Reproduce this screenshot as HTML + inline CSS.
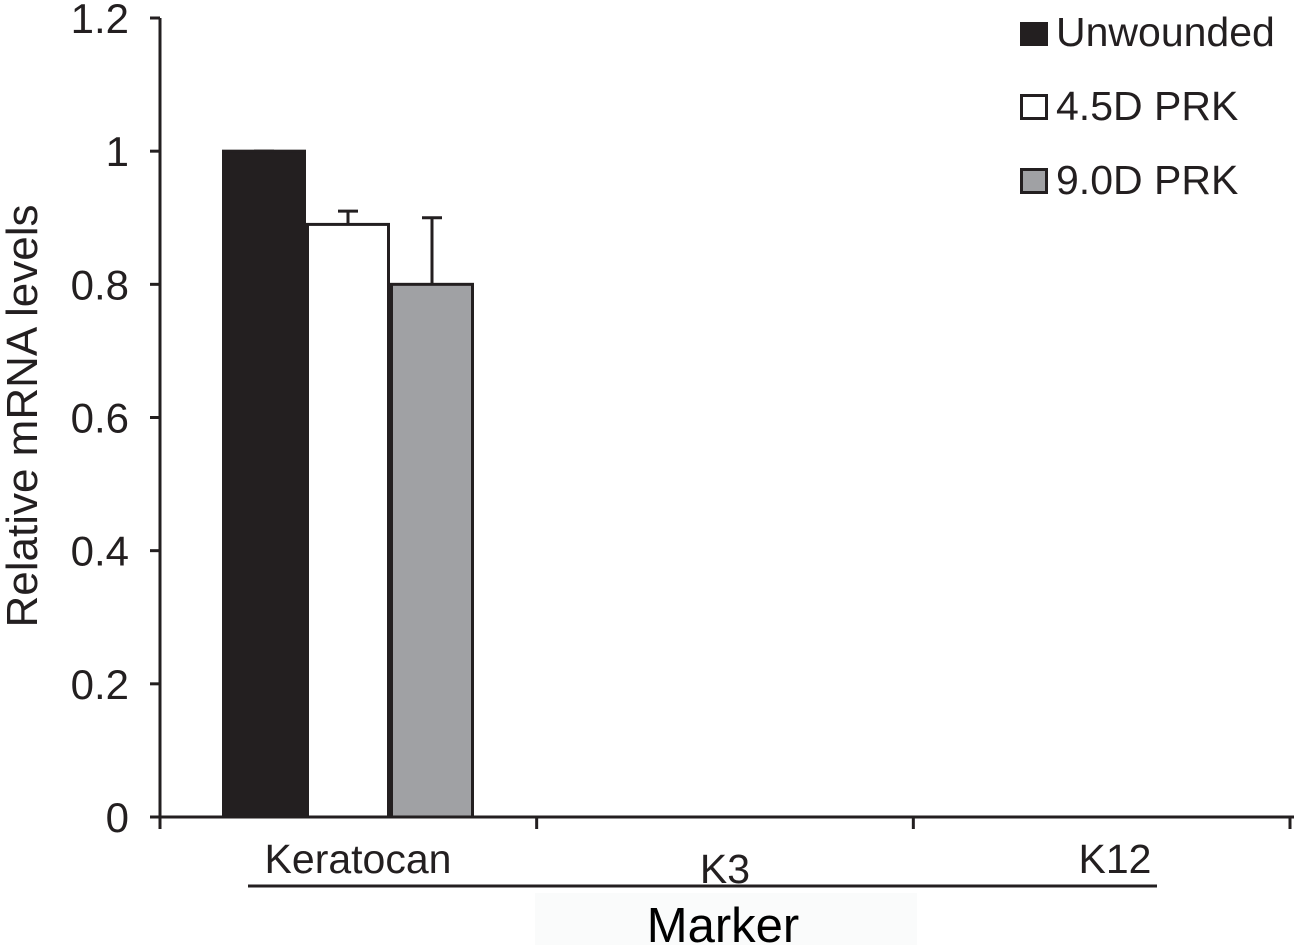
<!DOCTYPE html>
<html><head><meta charset="utf-8"><style>
html,body{margin:0;padding:0;background:#fff;}
svg{display:block;font-family:"Liberation Sans",Arial,sans-serif;}
</style></head><body>
<svg id="chart" width="1294" height="945" viewBox="0 0 1294 945">
<rect x="535" y="893" width="382" height="52" fill="#fafbfb"/>
<g id="yaxis"></g>
<g id="bars"></g>
<g id="xaxis"></g>
<text x="37" y="416" font-size="44" fill="#231f20" text-anchor="middle" transform="rotate(-90 37 416)">Relative mRNA levels</text>
<line x1="248" y1="886" x2="1157" y2="886" stroke="#231f20" stroke-width="3"/>
<text x="723" y="942" font-size="49" fill="#000" text-anchor="middle">Marker</text>
<g>
<g><rect x="1020" y="22" width="28" height="24" fill="#231f20"/><text x="1056" y="46" font-size="41" fill="#231f20">Unwounded</text></g>
<g><rect x="1021.5" y="95.5" width="25" height="23" fill="#fff" stroke="#231f20" stroke-width="3"/><text x="1056" y="120" font-size="41" fill="#231f20">4.5D PRK</text></g>
<g><rect x="1021.5" y="169.5" width="25" height="23" fill="#a0a1a4" stroke="#231f20" stroke-width="3"/><text x="1056" y="194" font-size="41" fill="#231f20">9.0D PRK</text></g>
</g>
</svg>
<script>
const categories = ["Keratocan", "K3", "K12"];
const seriesNames = ["Unwounded", "4.5D PRK", "9.0D PRK"];
const unwounded = [1.0, 0, 0];
const prk45 = [0.89, 0, 0];
const prk90 = [0.80, 0, 0];
const err45 = [0.02, 0, 0];
const err90 = [0.10, 0, 0];
const errUnw = [0.0, 0, 0];
const yTicks = [0, 0.2, 0.4, 0.6, 0.8, 1, 1.2];
const yTickLabels = ["0", "0.2", "0.4", "0.6", "0.8", "1", "1.2"];

const NS = "http://www.w3.org/2000/svg";
const x0 = 160, x1 = 1290, yBase = 817, yTop = 18, yMax = 1.2;
const catW = (x1 - x0) / categories.length;
function y(v){ return yBase - v / yMax * (yBase - yTop); }
function catX(i){ return x0 + i * catW; }
function mk(tag, attrs, parent){ const e = document.createElementNS(NS, tag); for (const k in attrs) e.setAttribute(k, attrs[k]); parent.appendChild(e); return e; }

const yax = document.getElementById('yaxis');
let l = mk('line', {x1: x0, y1: yTop, x2: x0, y2: yBase + 1, stroke: '#231f20', 'stroke-width': 3}, yax);


yTicks.forEach((t, i) => {
  const tk = mk('line', {x1: x0 - 10, y1: y(t), x2: x0, y2: y(t), stroke: '#231f20', 'stroke-width': 3}, yax);
  
  
  const tx = mk('text', {x: 129, y: y(t) + 15, 'font-size': 42, fill: '#231f20', 'text-anchor': 'end'}, yax);
  tx.textContent = yTickLabels[i];
  
  
});

const xax = document.getElementById('xaxis');
l = mk('line', {x1: x0, y1: yBase, x2: x1 + 4, y2: yBase, stroke: '#231f20', 'stroke-width': 3}, xax);


for (let i = 0; i <= categories.length; i++) {
  const tk = mk('line', {x1: catX(i), y1: yBase, x2: catX(i), y2: yBase + 12, stroke: '#231f20', 'stroke-width': 3}, xax);
  
  
}
const labelPos = [[358, 873], [725, 883], [1115, 873]];
categories.forEach((c, i) => {
  const tx = mk('text', {x: labelPos[i][0], y: labelPos[i][1], 'font-size': 41, fill: '#231f20', 'text-anchor': 'middle'}, xax);
  tx.textContent = c;
  
  
});

const bg = document.getElementById('bars');
const series = [unwounded, prk45, prk90];
const errs = [errUnw, err45, err90];
const fills = ['#231f20', '#ffffff', '#a0a1a4'];
const barW = 84, groupStart = 62;
categories.forEach((c, i) => {
  series.forEach((s, j) => {
    const v = s[i];
    if (v <= 0) return;
    const bx = catX(i) + groupStart + j * barW;
    const r = mk('rect', {x: bx + 1.5, y: y(v), width: barW - 3, height: yBase - y(v), fill: fills[j], stroke: '#231f20', 'stroke-width': 3}, bg);
    
    
    const e = errs[j][i];
    const cx = bx + barW / 2;
    const el = mk('path', {d: `M${cx},${y(v)} V${y(v + e)} M${cx - 10},${y(v + e)} H${cx + 10}`, stroke: '#231f20', 'stroke-width': 3, fill: 'none'}, bg);
    
    
  });
});
</script>
</body></html>
